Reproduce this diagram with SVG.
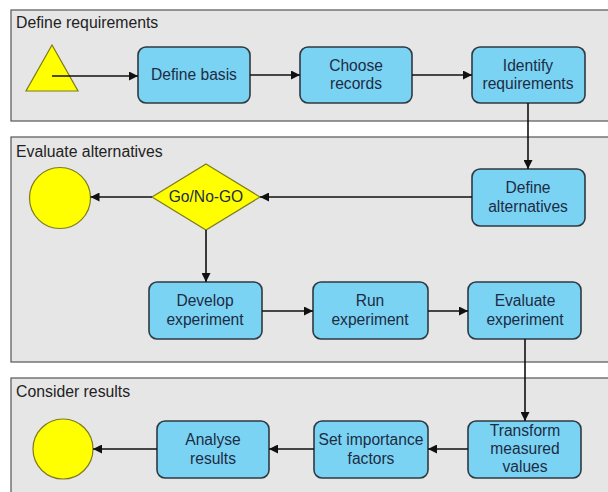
<svg xmlns="http://www.w3.org/2000/svg" width="608" height="492" viewBox="0 0 608 492">
<style>
.lane{fill:#e6e6e6;stroke:#555;stroke-width:1.2}
.lt{font-family:"Liberation Sans",Arial,sans-serif;font-size:15.8px;fill:#222}
.node{fill:#7bd3f3;stroke:#2f3a40;stroke-width:1.6}
.nt{font-family:"Liberation Sans",Arial,sans-serif;font-size:15.6px;fill:#1c2c45;text-anchor:middle}
.yel{fill:#ffff00;stroke:#7d7a20;stroke-width:1.2}
.c{fill:none;stroke:#111;stroke-width:1.6;marker-end:url(#ah)}
</style>
<defs>
<marker id="ah" viewBox="0 0 10 10" refX="10" refY="5" markerWidth="9" markerHeight="9" markerUnits="userSpaceOnUse" orient="auto">
<path d="M0,0 L10,5 L0,10 z" fill="#111"/>
</marker>
</defs>
<rect width="608" height="492" fill="#fff"/>
<g id="lane1"><rect class="lane" x="11" y="10" width="620" height="111"/><text class="lt" x="16" y="28">Define requirements</text></g>
<g id="lane2"><rect class="lane" x="11" y="137" width="620" height="225"/><text class="lt" x="16" y="157">Evaluate alternatives</text></g>
<g id="lane3"><rect class="lane" x="11" y="378" width="620" height="130"/><text class="lt" x="16" y="397">Consider results</text></g>
<g id="start"><polygon class="yel" points="52,45 26,91 78,91"/></g>
<g id="define-basis"><rect class="node" x="138" y="47" width="112" height="56" rx="8"/><text class="nt" x="194" y="80">Define basis</text></g>
<g id="choose-records"><rect class="node" x="300" y="47" width="112" height="56" rx="8"/><text class="nt" x="356" y="71">Choose</text><text class="nt" x="356" y="89">records</text></g>
<g id="identify-requirements"><rect class="node" x="472" y="47" width="113" height="56" rx="8"/><text class="nt" x="528" y="71">Identify</text><text class="nt" x="528" y="89">requirements</text></g>
<g id="define-alternatives"><rect class="node" x="472" y="169" width="113" height="57" rx="8"/><text class="nt" x="528" y="193">Define</text><text class="nt" x="528" y="212">alternatives</text></g>
<g id="go-nogo"><polygon class="yel" points="206,164 260,197 206,230 152,197"/><text class="nt" x="206" y="202">Go/No-GO</text></g>
<g id="end1"><circle class="yel" cx="60" cy="198" r="30.5"/></g>
<g id="develop-experiment"><rect class="node" x="149" y="282" width="113" height="57" rx="8"/><text class="nt" x="205" y="306">Develop</text><text class="nt" x="205" y="325">experiment</text></g>
<g id="run-experiment"><rect class="node" x="313" y="282" width="115" height="57" rx="8"/><text class="nt" x="370" y="306">Run</text><text class="nt" x="370" y="325">experiment</text></g>
<g id="evaluate-experiment"><rect class="node" x="468" y="282" width="113" height="57" rx="8"/><text class="nt" x="525" y="306">Evaluate</text><text class="nt" x="525" y="325">experiment</text></g>
<g id="transform-values"><rect class="node" x="468" y="421" width="113" height="57" rx="8"/><text class="nt" x="525" y="436">Transform</text><text class="nt" x="525" y="454">measured</text><text class="nt" x="525" y="472">values</text></g>
<g id="set-importance"><rect class="node" x="314" y="421" width="114" height="57" rx="8"/><text class="nt" x="371" y="445">Set importance</text><text class="nt" x="371" y="464">factors</text></g>
<g id="analyse-results"><rect class="node" x="157" y="421" width="112" height="57" rx="8"/><text class="nt" x="213" y="445">Analyse</text><text class="nt" x="213" y="464">results</text></g>
<g id="end2"><circle class="yel" cx="63" cy="449" r="30"/></g>
<g id="connectors">
<line class="c" x1="52" y1="76" x2="138" y2="76"/>
<line class="c" x1="250" y1="75" x2="300" y2="75"/>
<line class="c" x1="412" y1="75" x2="472" y2="75"/>
<line class="c" x1="528" y1="103" x2="528" y2="169"/>
<line class="c" x1="472" y1="197" x2="260" y2="197"/>
<line class="c" x1="152" y1="197" x2="90.5" y2="197"/>
<line class="c" x1="206" y1="230" x2="206" y2="282"/>
<line class="c" x1="262" y1="311" x2="313" y2="311"/>
<line class="c" x1="428" y1="311" x2="468" y2="311"/>
<line class="c" x1="525" y1="339" x2="525" y2="421"/>
<line class="c" x1="468" y1="449" x2="428" y2="449"/>
<line class="c" x1="314" y1="449" x2="269" y2="449"/>
<line class="c" x1="157" y1="449" x2="93" y2="449"/>
</g>
</svg>
